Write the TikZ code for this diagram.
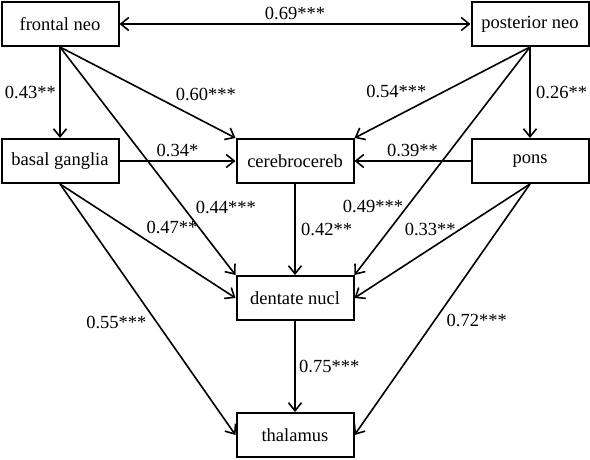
\documentclass[tikz,border=0pt]{standalone}
\usepackage{fontspec}
\setmainfont{Liberation Serif}
\usetikzlibrary{arrows.meta, positioning}

\begin{document}
\begin{tikzpicture}[x=1pt, y=-1pt, >={Straight Barb[length=8pt,width=13pt]}, on grid, node distance=137pt and 235pt, font=\fontsize{18.5}{21}\selectfont, region/.style={rectangle, draw, line width=2pt, minimum width=117pt, minimum height=44pt}, link/.style={->, line width=1.6pt}]
    \useasboundingbox (0,0) rectangle (590,459);
    \node[region] (fn)   at (60,24)        {frontal neo};
    \node[region] (bg)   [below=of fn]     {basal ganglia};
    \node[region] (cc)   [right=of bg]     {cerebrocereb};
    \node[region] (pons) [right=of cc]     {pons};
    \node[region] (pn)   [above=of pons]   {posterior neo};
    \node[region] (dn)   [below=of cc]     {dentate nucl};
    \node[region] (th)   [below=of dn]     {thalamus};

  \path[link]
        (fn) edge [<->]  node [above] {0.69***}  (pn)
        (fn.south) edge  node [left] {0.43**}  (bg.north)
             edge  node [pos=0.636, anchor=south west] {0.60***}  (cc.north west)
             edge  node [pos=0.75, anchor=south west] {0.44***}  (dn.north west)
        (bg) edge  node [above] {0.34*}  (cc)
        (bg.south) edge  node [pos=0.47, anchor=south west] {0.47**}  (dn.west)
             edge  node [pos=0.55, left=6pt] {0.55***}  (th.west)
        (pn.south) edge  node [right=2pt] {0.26**}  (pons.north)
             edge  node [pos=0.58, anchor=south east, inner sep=1pt] {0.54***}  (cc.north east)
             edge  node [pos=0.7, left] {0.49***}  (dn.north east)
        (pons) edge  node [above] {0.39**}  (cc)
        (pons.south) edge  node [pos=0.4, left] {0.33**}  (dn.east)
             edge  node [pos=0.544, right=8pt] {0.72***}  (th.east)
        (cc) edge  node [right=2pt] {0.42**}  (dn)
        (dn) edge  node [right] {0.75***}  (th)
        ;
\end{tikzpicture}
\end{document}
